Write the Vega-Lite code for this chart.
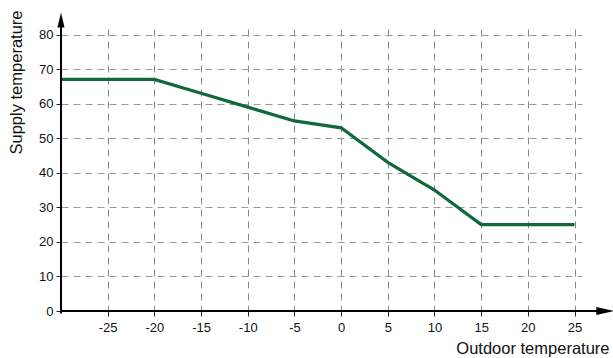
{
  "$schema": "https://vega.github.io/schema/vega-lite/v6.json",
  "width": 521,
  "height": 282,
  "autosize": {"type": "none"},
  "padding": {"left": 61, "top": 29, "right": 31, "bottom": 47},
  "background": "white",
  "config": {
    "view": {"stroke": null},
    "font": "Liberation Sans"
  },
  "datasets": {
    "curve": [
      {"outdoor": -30, "supply": 67},
      {"outdoor": -20, "supply": 67},
      {"outdoor": -15, "supply": 63},
      {"outdoor": -10, "supply": 59},
      {"outdoor": -5, "supply": 55},
      {"outdoor": 0, "supply": 53},
      {"outdoor": 5, "supply": 43},
      {"outdoor": 10, "supply": 35},
      {"outdoor": 15, "supply": 25},
      {"outdoor": 25, "supply": 25}
    ],
    "axislines": [
      {"outdoor": -30.1, "outdoor2": 27.4, "supply": 0, "supply2": 0},
      {"outdoor": -30, "outdoor2": -30, "supply": -0.7, "supply2": 82.3}
    ],
    "arrowx": [{"outdoor": 28.3, "supply": 0}],
    "arrowy": [{"outdoor": -30, "supply": 84.2}]
  },
  "encoding": {
    "x": {
      "field": "outdoor", "type": "quantitative",
      "scale": {"domain": [-30, 25.8], "nice": false, "zero": false},
      "axis": {
        "values": [-25, -20, -15, -10, -5, 0, 5, 10, 15, 20, 25],
        "labelExpr": "'' + datum.value",
        "labelOverlap": false,
        "domain": false,
        "grid": true,
        "gridColor": "#8a8a8a",
        "gridDash": [7, 5],
        "gridWidth": 1,
        "ticks": true,
        "tickSize": 5,
        "tickColor": "#222",
        "labelFontSize": 13,
        "labelColor": "#111",
        "labelPadding": 5,
        "title": "Outdoor temperature",
        "titleFontSize": 16.5,
        "titleFontWeight": "normal",
        "titleColor": "#111",
        "titleAnchor": "end",
        "titleAlign": "right",
        "titleBaseline": "alphabetic",
        "titleX": 548,
        "titleY": 42
      }
    },
    "y": {
      "field": "supply", "type": "quantitative",
      "scale": {"domain": [0, 81.6], "nice": false, "zero": false},
      "axis": {
        "values": [0, 10, 20, 30, 40, 50, 60, 70, 80],
        "labelOverlap": false,
        "domain": false,
        "grid": true,
        "gridColor": "#9a9a9a",
        "gridDash": [7, 5],
        "gridWidth": 1,
        "ticks": true,
        "tickSize": 5,
        "tickColor": "#222",
        "labelFontSize": 13,
        "labelColor": "#111",
        "labelPadding": 3,
        "title": "Supply temperature",
        "titleFontSize": 16.5,
        "titleFontWeight": "normal",
        "titleColor": "#111",
        "titleAngle": -90,
        "titleAlign": "right",
        "titleBaseline": "alphabetic",
        "titleX": -39.5,
        "titleY": -19
      }
    }
  },
  "layer": [
    {
      "data": {"name": "curve"},
      "mark": {"type": "line", "color": "#10693a", "strokeWidth": 3.2, "strokeJoin": "miter"}
    },
    {
      "data": {"name": "axislines"},
      "mark": {"type": "rule", "color": "black", "strokeWidth": 2},
      "encoding": {
        "x2": {"field": "outdoor2"},
        "y2": {"field": "supply2"}
      }
    },
    {
      "data": {"name": "arrowx"},
      "mark": {"type": "point", "shape": "M-1,-0.45L1,0L-1,0.45Z", "filled": true, "color": "black", "opacity": 1, "size": 324}
    },
    {
      "data": {"name": "arrowy"},
      "mark": {"type": "point", "shape": "M-0.47,1L0,-1L0.47,1Z", "filled": true, "color": "black", "opacity": 1, "size": 225}
    }
  ]
}
